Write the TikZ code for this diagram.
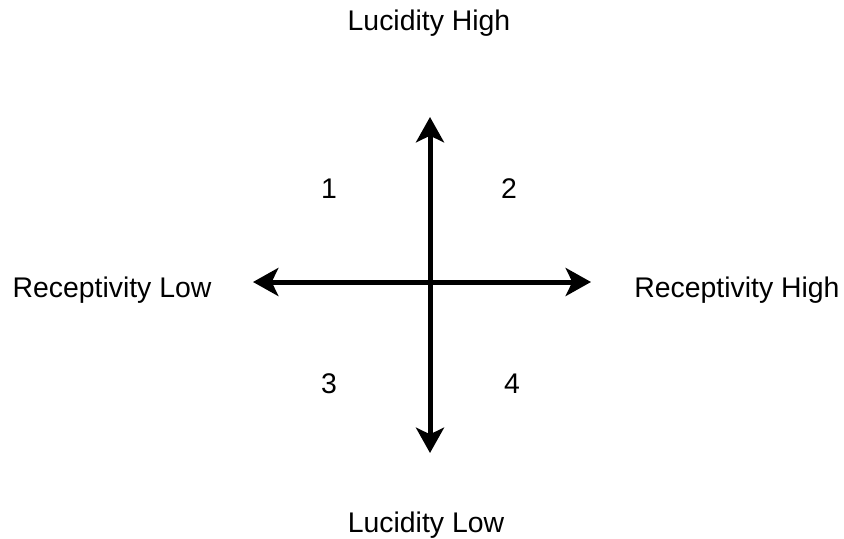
\documentclass[tikz,border=0pt]{standalone}
\usepackage{fontspec}
\setmainfont{Liberation Sans}
\usetikzlibrary{arrows.meta, positioning}

\begin{document}
\begin{tikzpicture}[x=0.75pt, y=-0.75pt, >={Stealth[length=19pt, width=21pt, inset=5pt]},
  axis/.style={<->, line width=3.75pt},
  every node/.style={inner sep=0pt, anchor=base, font=\fontsize{21.3}{25}\selectfont}]
\useasboundingbox (0,0) rectangle (844,539);
\coordinate (o) at (430,282);
\coordinate (up) at (430,117);
\coordinate (down) at (430,453);
\coordinate (left) at (253,282);
\coordinate (right) at (591,282);
\draw[axis] (down) -- (up);
\draw[axis] (left) -- (right);
\node (lhigh) at (429,31) {Lucidity High};
\node (llow) at (426,532) {Lucidity Low};
\node (rlow) at (112,297) {Receptivity Low};
\node (rhigh) at (737,297) {Receptivity High};
\node (q1) at (329,198) {1};
\node (q2) at (509,198) {2};
\node (q3) at (329,393) {3};
\node (q4) at (512,393) {4};
\end{tikzpicture}
\end{document}
